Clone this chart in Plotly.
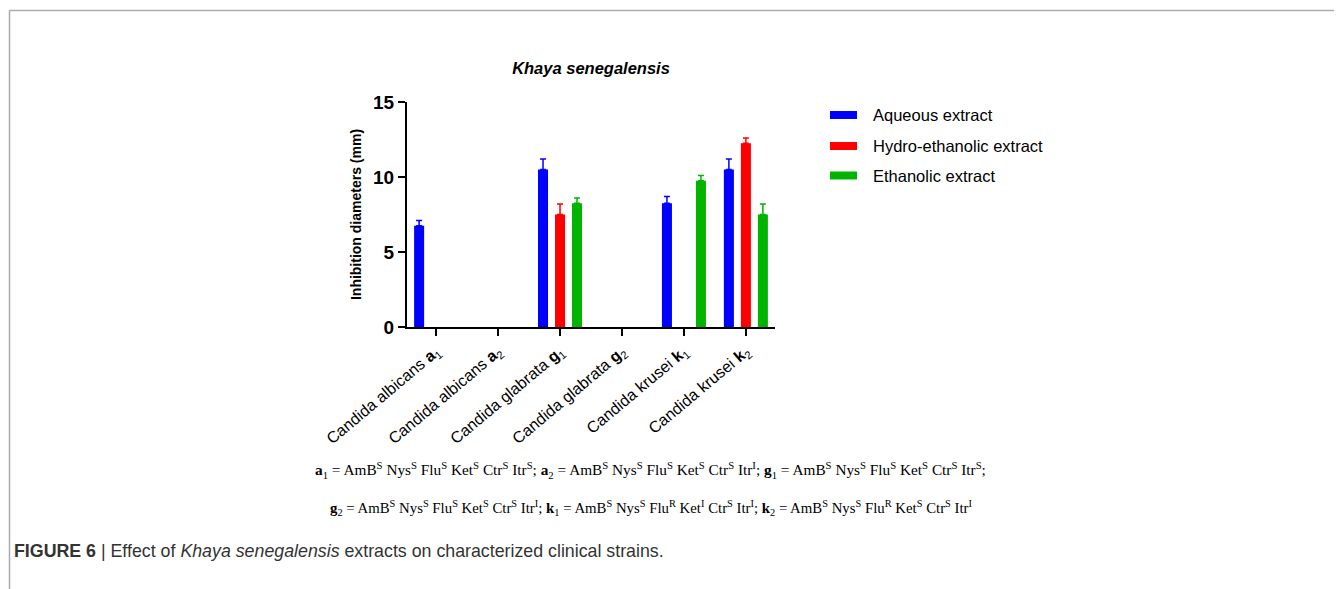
import plotly.graph_objects as go

# ---------------- data ----------------
categories = [
    "Candida albicans <b>a</b><sub>1</sub>",
    "Candida albicans <b>a</b><sub>2</sub>",
    "Candida glabrata <b>g</b><sub>1</sub>",
    "Candida glabrata <b>g</b><sub>2</sub>",
    "Candida krusei <b>k</b><sub>1</sub>",
    "Candida krusei <b>k</b><sub>2</sub>",
]
series_names = ["Aqueous extract", "Hydro-ethanolic extract", "Ethanolic extract"]
aqueous = [6.75, None, 10.5, None, 8.25, 10.5]
aqueous_err = [0.35, 0, 0.7, 0, 0.45, 0.7]
hydro = [None, None, 7.5, None, None, 12.25]
hydro_err = [0, 0, 0.7, 0, 0, 0.35]
ethanolic = [None, None, 8.25, None, 9.75, 7.5]
ethanolic_err = [0, 0, 0.35, 0, 0.35, 0.7]
colors = ["#0000FF", "#FF0000", "#00B400"]
y_ticks = [0, 5, 10, 15]

OFF = 8  # default page body margin
W, H = 1342 - OFF, 589 - OFF
L, R, T, B = 407, 775, 102, 327  # plot area in page pixels


def px(x):
    return (x - L) / (R - L)


def py(y):
    return (B - y) / (B - T)


FONT = "Arial, Liberation Sans, sans-serif"
SERIF = "Times New Roman, Liberation Serif, serif"

fig = go.Figure()
for name, vals, errs, col in zip(series_names, [aqueous, hydro, ethanolic],
                                 [aqueous_err, hydro_err, ethanolic_err], colors):
    fig.add_trace(go.Bar(
        x=categories, y=vals, name=name, marker=dict(color=col, line=dict(width=0)),
        error_y=dict(type="data", array=errs, arrayminus=[0] * len(errs), symmetric=False,
                     color=col, thickness=1.5, width=3),
        showlegend=False,
    ))

fig.update_layout(
    width=W, height=H,
    margin=dict(l=L - OFF, r=W - (R - OFF), t=T - OFF, b=H - (B - OFF), autoexpand=False),
    paper_bgcolor="white", plot_bgcolor="white",
    barmode="group", bargap=0.177, bargroupgap=0.41,
    font=dict(family=FONT, color="black"),
    title=dict(text="<b><i>Khaya senegalensis</i></b>", x=px(591), xref="paper", xanchor="center",
               y=1 - (68 - OFF) / H, yanchor="middle", font=dict(size=16.5, family=FONT)),
)
fig.update_xaxes(
    showline=True, linecolor="black", linewidth=2, ticks="outside", ticklen=7, tickwidth=2,
    tickcolor="black", tickangle=-40, tickfont=dict(size=16, family=FONT),
    range=[-0.47, 5.47], showgrid=False,
)
fig.update_yaxes(
    range=[0, 15], tickvals=y_ticks, showline=True, linecolor="black", linewidth=2,
    ticks="outside", ticklen=7, tickwidth=2, tickcolor="black",
    tickfont=dict(size=19, family=FONT, weight="bold"), showgrid=False, zeroline=False,
    title=dict(text="<b>Inhibition diameters (mm)</b>", font=dict(size=14, family=FONT), standoff=8),
)

# legend drawn manually
leg_y = [115, 146, 175.5]
for name, col, yy in zip(series_names, colors, leg_y):
    fig.add_shape(type="rect", xref="paper", yref="paper",
                  x0=px(830), x1=px(857), y0=py(yy - 4), y1=py(yy + 4),
                  fillcolor=col, line=dict(width=0))
    fig.add_annotation(text=name, xref="paper", yref="paper", x=px(871), y=py(yy),
                       xanchor="left", yanchor="middle", showarrow=False,
                       font=dict(size=16.5, family=FONT, color="black"))

# footnotes
S = "<sup>S</sup>"
I = "<sup>I</sup>"
Rr = "<sup>R</sup>"
line1 = ("<b>a</b><sub>1</sub> = AmB" + S + " Nys" + S + " Flu" + S + " Ket" + S + " Ctr" + S + " Itr" + S + "; "
         "<b>a</b><sub>2</sub> = AmB" + S + " Nys" + S + " Flu" + S + " Ket" + S + " Ctr" + S + " Itr" + I + "; "
         "<b>g</b><sub>1</sub> = AmB" + S + " Nys" + S + " Flu" + S + " Ket" + S + " Ctr" + S + " Itr" + S + ";")
line2 = ("<b>g</b><sub>2</sub> = AmB" + S + " Nys" + S + " Flu" + S + " Ket" + S + " Ctr" + S + " Itr" + I + "; "
         "<b>k</b><sub>1</sub> = AmB" + S + " Nys" + S + " Flu" + Rr + " Ket" + I + " Ctr" + S + " Itr" + I + "; "
         "<b>k</b><sub>2</sub> = AmB" + S + " Nys" + S + " Flu" + Rr + " Ket" + S + " Ctr" + S + " Itr" + I)
fig.add_annotation(text=line1, xref="paper", yref="paper", x=px(650), y=py(470),
                   xanchor="center", yanchor="middle", showarrow=False,
                   font=dict(size=15.3, family=SERIF, color="black"))
fig.add_annotation(text=line2, xref="paper", yref="paper", x=px(651), y=py(508),
                   xanchor="center", yanchor="middle", showarrow=False,
                   font=dict(size=14.8, family=SERIF, color="black"))

# caption
fig.add_annotation(text="<b>FIGURE 6</b> | Effect of <i>Khaya senegalensis</i> extracts on characterized clinical strains.",
                   xref="paper", yref="paper", x=px(12), y=py(551), xanchor="left", yanchor="middle",
                   showarrow=False, font=dict(size=17.8, family=FONT, color="#333333"))

# frame lines
fig.add_shape(type="line", xref="paper", yref="paper", x0=px(9.5), x1=px(1342 + OFF), y0=py(10.5), y1=py(10.5),
              line=dict(color="#aaaaaa", width=1.5))
fig.add_shape(type="line", xref="paper", yref="paper", x0=px(9.5), x1=px(9.5), y0=py(10.5), y1=py(589 + OFF),
              line=dict(color="#aaaaaa", width=1.5))

fig.write_html("out.html")
